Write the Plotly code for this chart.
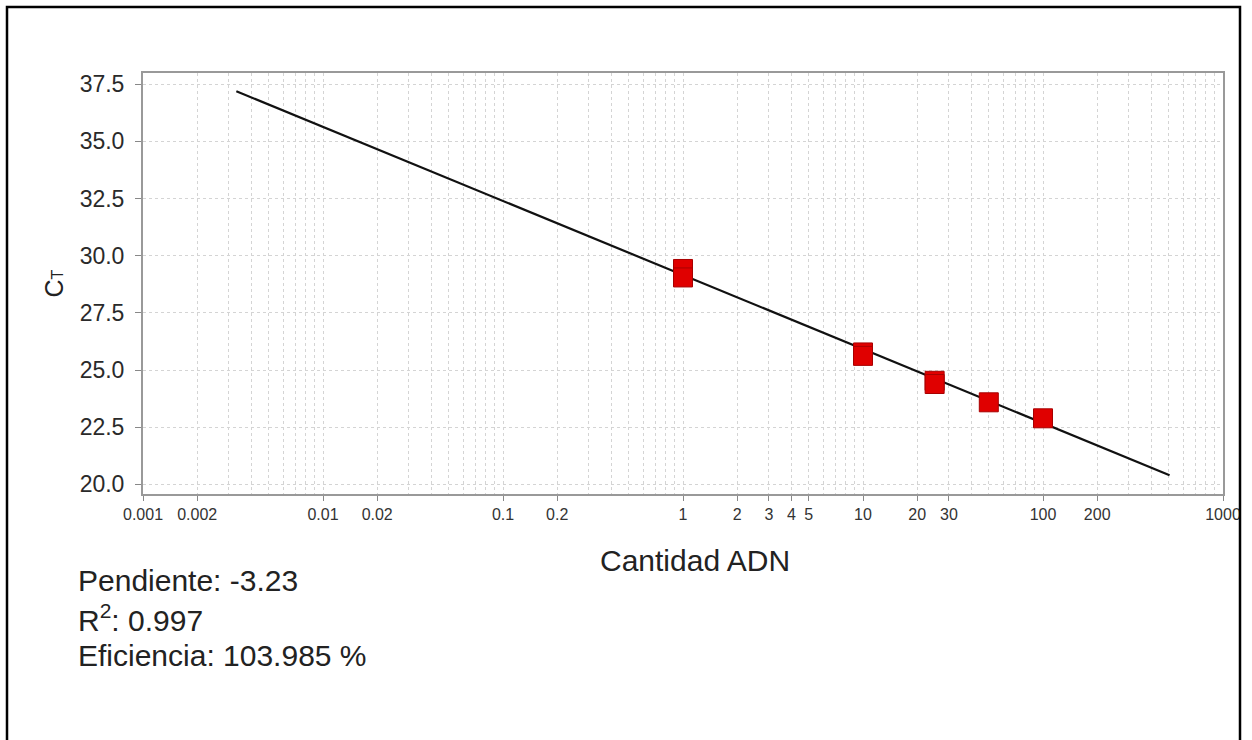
import plotly.graph_objects as go

# ---- data ----
dna_amount = [1, 1, 10, 10, 25, 25, 50, 100]
ct_values = [29.42, 29.05, 25.77, 25.62, 24.53, 24.39, 23.59, 22.89]

fit_x = [0.0033, 505]
fit_y = [37.19, 20.40]

x_tick_vals = [0.001, 0.002, 0.01, 0.02, 0.1, 0.2, 1, 2, 3, 4, 5, 10, 20, 30, 100, 200, 1000]
x_tick_text = ["0.001", "0.002", "0.01", "0.02", "0.1", "0.2", "1", "2", "3", "4", "5",
               "10", "20", "30", "100", "200", "1000"]
x_minor_vals = [m * 10.0 ** e for e in range(-3, 3) for m in range(1, 10)] + [1000]
y_tick_vals = [20.0, 22.5, 25.0, 27.5, 30.0, 32.5, 35.0, 37.5]
y_tick_text = ["20.0", "22.5", "25.0", "27.5", "30.0", "32.5", "35.0", "37.5"]

stats_lines = ["Pendiente: -3.23", "R<sup>2</sup>: 0.997", "Eficiencia: 103.985 %"]

W, H = 1252, 740
L, R, T, B = 143, 1223, 73, 494


def px_x(p):
    return (p - L) / (R - L)


def px_y(p):
    return (B - p) / (B - T)


fig = go.Figure()
fig.add_trace(go.Scatter(x=fit_x, y=fit_y, mode="lines",
                         line=dict(color="#111111", width=2.2), showlegend=False,
                         hoverinfo="skip"))
fig.add_trace(go.Scatter(x=dna_amount, y=ct_values, mode="markers",
                         marker=dict(symbol="square", size=19, color="#e00000",
                                     line=dict(color="#a80000", width=1)),
                         showlegend=False))

grid_col = "#d4d4d4"
fig.update_xaxes(type="log", range=[-3, 3],
                 tickmode="array", tickvals=x_tick_vals, ticktext=x_tick_text,
                 ticks="outside", ticklen=5, tickcolor="#888888",
                 tickfont=dict(family="Liberation Sans, Arial", size=16, color="#333333"),
                 showgrid=True, gridcolor=grid_col, griddash="3px,3px", gridwidth=1,
                 minor=dict(tickmode="array", tickvals=x_minor_vals, showgrid=True,
                            gridcolor=grid_col, griddash="3px,3px", ticks=""),
                 showline=True, linecolor="#999999", linewidth=2, mirror=True,
                 zeroline=False)
fig.update_yaxes(range=[19.58, 37.99],
                 tickmode="array", tickvals=y_tick_vals, ticktext=y_tick_text,
                 ticks="outside", ticklen=6, tickcolor="#888888", ticklabelstandoff=6,
                 tickfont=dict(family="Liberation Sans, Arial", size=23, color="#2a2a2a"),
                 showgrid=True, gridcolor=grid_col, griddash="3px,3px", gridwidth=1,
                 showline=True, linecolor="#999999", linewidth=2, mirror=True,
                 zeroline=False)

annotations = [
    dict(text="C<span style='font-size:16px'>T</span>", x=px_x(53), y=0.5,
         xref="paper", yref="paper", textangle=-90, showarrow=False,
         xanchor="center", yanchor="middle",
         font=dict(family="Liberation Sans, Arial", size=25, color="#222222")),
    dict(text="Cantidad ADN", x=px_x(695), y=px_y(560), xref="paper", yref="paper",
         showarrow=False, xanchor="center", yanchor="middle",
         font=dict(family="Liberation Sans, Arial", size=30, color="#222222")),
]
for i, line in enumerate(stats_lines):
    annotations.append(dict(text=line, x=px_x(76), y=px_y(580 + 37.5 * i),
                            xref="paper", yref="paper", showarrow=False,
                            xanchor="left", yanchor="middle",
                            font=dict(family="Liberation Sans, Arial", size=30,
                                      color="#222222")))

fig.update_layout(
    width=W, height=H, autosize=False,
    margin=dict(l=L, r=W - R, t=T, b=H - B),
    paper_bgcolor="white", plot_bgcolor="white",
    annotations=annotations,
    shapes=[dict(type="rect", xref="paper", yref="paper",
                 x0=px_x(7), x1=px_x(1240), y0=px_y(760), y1=px_y(7),
                 line=dict(color="black", width=2.5), fillcolor="rgba(0,0,0,0)",
                 layer="above")],
)

fig.write_html("out.html")
